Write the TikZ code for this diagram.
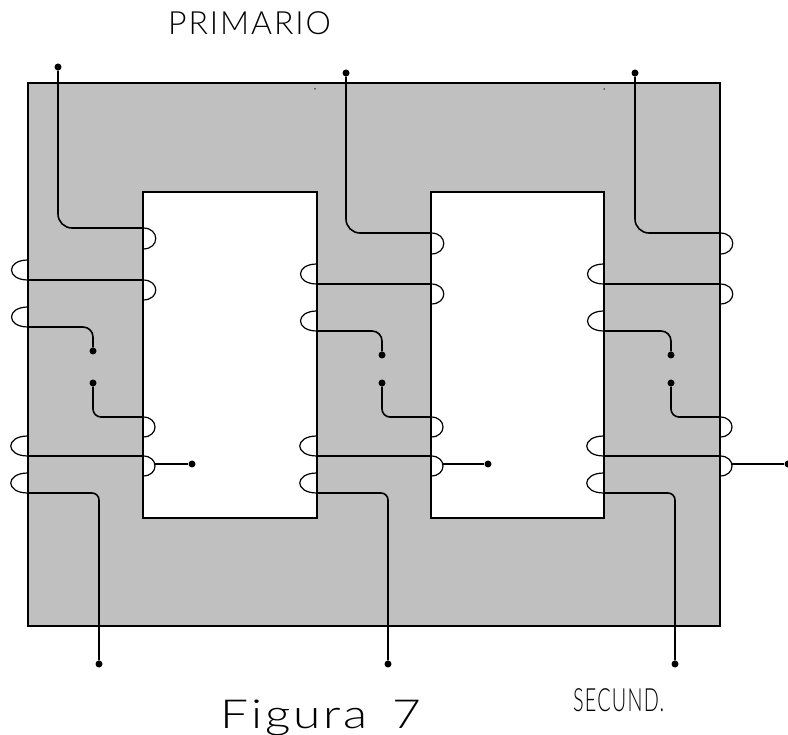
\documentclass[tikz,border=0pt]{standalone}
\usepackage{fontspec}
\usepackage{xcolor}
\usepackage{tikz}
\usetikzlibrary{positioning,calc}
\newfontfamily\labelfont[LetterSpace=6]{Lato Light}
\definecolor{coregray}{HTML}{C0C0C0}
\tikzset{
  core/.style={draw=black, line width=1.8pt, fill=coregray},
  window/.style={draw=black, line width=1.8pt, fill=white},
  wire/.style={draw=black, line width=1.6pt},
  coil/.style={draw=black, line width=1.2pt},
  terminal/.style={circle, fill=black, inner sep=0pt, minimum size=7pt},
  speck/.style={circle, fill=black, inner sep=0pt, minimum size=1.5pt},
  caption/.style={inner sep=0pt, anchor=base west, text=black}
}
\begin{document}
\begin{tikzpicture}[x=1pt, y=-1pt]
      \useasboundingbox (0,0) rectangle (788,735);
      \draw[core] (28,83) rectangle (720,626);
      \draw[window] (143,192) rectangle (317,518);
      \draw[window] (431,192) rectangle (604,518);
      \node[speck] (speckA) at (315,89) {};
      \node[speck] (speckB) at (604,89) {};
      % one limb of the core per line
      \foreach \s/\lft/\rgt/\tx/\ty/\wy/\my/\mx/\bx/\ex in {
          A/28/143/58/67/228/280/93/99/192,
          B/317/431/346/73/233/284/382/388/488,
          C/604/720/635/73/233/284/671/675/788}
               {
                 \node[terminal] (top\s) at (\tx,\ty) {};
                 \coordinate (inA\s) at (\rgt,\wy);
                 \coordinate (inB\s) at (\rgt,\wy+21);
                 \coordinate (upA\s) at (\lft,\my-20);
                 \coordinate (upB\s) at (\lft,\my);
                 \coordinate (upC\s) at (\rgt,\my);
                 \coordinate (upD\s) at (\rgt,\my+20);
                 \coordinate (upE\s) at (\lft,\my+27);
                 \coordinate (upF\s) at (\lft,\my+47);
                 \node[terminal] (midA\s) at (\mx,\my+71) {};
                 \node[terminal] (midB\s) at (\mx,383) {};
                 \coordinate (loA\s) at (\rgt,417);
                 \coordinate (loB\s) at (\rgt,437);
                 \coordinate (loC\s) at (\lft,436);
                 \coordinate (loD\s) at (\lft,456);
                 \coordinate (loE\s) at (\rgt,456);
                 \coordinate (loF\s) at (\rgt,476);
                 \coordinate (loG\s) at (\lft,473);
                 \coordinate (loH\s) at (\lft,493);
                 \coordinate (tap\s) at (\rgt+12,464);
                 \node[terminal] (end\s) at (\ex,464) {};
                 \node[terminal] (bot\s) at (\bx,664) {};
                 \draw[wire, rounded corners=14pt] (top\s) |- (inA\s);
                 \draw[wire] (upB\s) -- (upC\s);
                 \draw[wire, rounded corners=10pt] (upF\s) -| (midA\s);
                 \draw[wire, rounded corners=8pt] (midB\s) |- (loA\s);
                 \draw[wire] (loD\s) -- (loE\s);
                 \draw[wire, rounded corners=7pt] (loH\s) -| (bot\s);
                 \draw[coil] (tap\s) -- (end\s);
                 \draw[coil] (inA\s) .. controls +(17,0) and +(17,0) .. (inB\s);
                 \draw[coil] (upC\s) .. controls +(17,0) and +(17,0) .. (upD\s);
                 \draw[coil] (loA\s) .. controls +(16,0) and +(16,0) .. (loB\s);
                 \draw[coil] (loE\s) .. controls +(16,0) and +(16,0) .. (loF\s);
                 \draw[coil] (upA\s) .. controls +(-22,0) and +(-22,0) .. (upB\s);
                 \draw[coil] (upE\s) .. controls +(-22,0) and +(-22,0) .. (upF\s);
                 \draw[coil] (loC\s) .. controls +(-23,0) and +(-23,0) .. (loD\s);
                 \draw[coil] (loG\s) .. controls +(-23,0) and +(-23,0) .. (loH\s);
               }
      \node[caption] (primario) at (168,35) {\fontsize{32}{32}\labelfont PRIMARIO};
      \node[caption] (secund) at (573,711) {\fontsize{32}{32}\labelfont\scalebox{.62}[1]{SECUND.}};
      \node[caption] (figura) at (220,728) {\fontsize{40}{40}\labelfont\scalebox{1.24}[1]{Figura\, 7}};
    \end{tikzpicture}
\end{document}
